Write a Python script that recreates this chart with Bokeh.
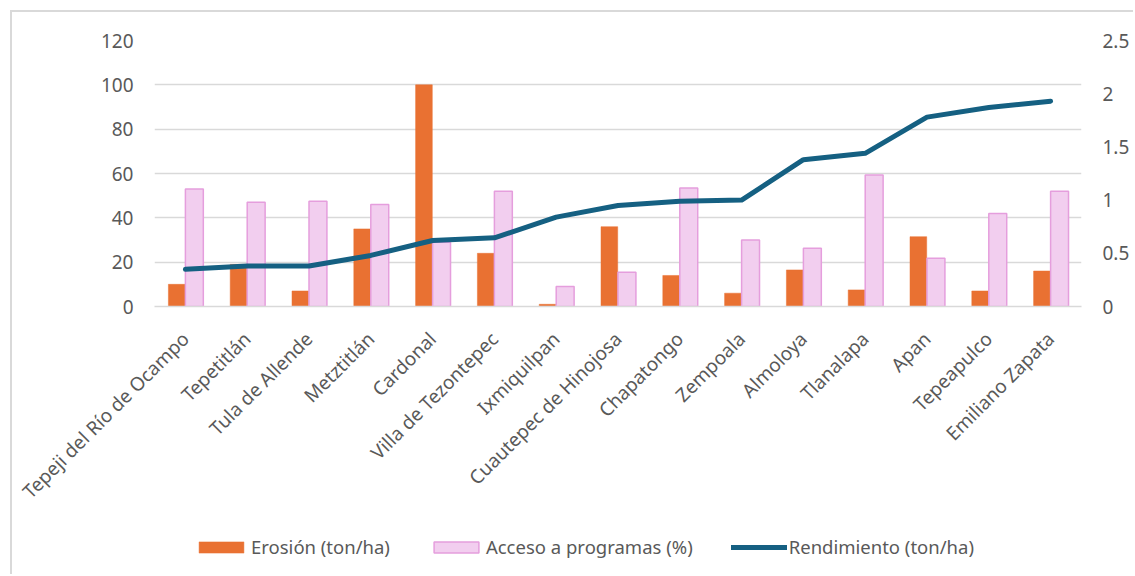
from math import pi

from bokeh.embed import file_html
from bokeh.layouts import column
from bokeh.models import (ColumnDataSource, CustomJSTickFormatter, FactorRange,
                          FixedTicker, Legend, LegendItem, LinearAxis, Range1d)
from bokeh.plotting import figure
from bokeh.resources import INLINE
from bokeh.transform import dodge

# Municipalities, ordered by yield
municipios = [
    "Tepeji del Río de Ocampo", "Tepetitlán", "Tula de Allende", "Metztitlán",
    "Cardonal", "Villa de Tezontepec", "Ixmiquilpan", "Cuautepec de Hinojosa",
    "Chapatongo", "Zempoala", "Almoloya", "Tlanalapa", "Apan", "Tepeapulco",
    "Emiliano Zapata",
]
# Soil erosion (ton/ha)
erosion = [10, 19, 7, 35, 100, 24, 1, 36, 14, 6, 16.5, 7.5, 31.5, 7, 16]
# Access to support programmes (%)
acceso = [53, 47, 47.5, 46, 29, 52, 9, 15.5, 53.5, 30, 26.3, 59.3, 21.8, 42, 52]
# Yield (ton/ha), right axis
rendimiento = [0.35, 0.38, 0.38, 0.48, 0.62, 0.645, 0.84, 0.95, 0.99, 1.0,
               1.38, 1.44, 1.78, 1.87, 1.93]

left_ticks = [0, 20, 40, 60, 80, 100, 120]
right_ticks = [0, 0.5, 1, 1.5, 2, 2.5]

ORANGE = "#E97132"
PINK_FILL = "#F2CEEF"
PINK_LINE = "#E59EDD"
TEAL = "#156082"
GRID = "#D9D9D9"
TEXT = "#595959"
FONT = "Noto Sans"

source = ColumnDataSource(dict(cat=municipios, erosion=erosion,
                               acceso=acceso, rend=rendimiento))

p = figure(
    x_range=FactorRange(*municipios, range_padding=0),
    y_range=Range1d(0, 120),
    width=1123, height=508,
    output_backend="svg", toolbar_location=None,
    min_border_left=142, min_border_right=54,
    min_border_top=28, min_border_bottom=214,
    background_fill_color="white", border_fill_color="white",
    outline_line_color=None,
)
p.margin = (10, 0, 0, 10)
p.styles = {"border-left": "2px solid #D9D9D9", "border-top": "2px solid #D9D9D9"}
p.extra_y_ranges = {"right": Range1d(0, 2.5)}

# Axes
p.yaxis.ticker = FixedTicker(ticks=left_ticks)
p.yaxis.axis_line_color = None
p.yaxis.major_tick_out = 0
p.yaxis.major_tick_in = 0
p.yaxis.minor_tick_line_color = None
p.yaxis.major_label_text_font = FONT
p.yaxis.major_label_text_font_size = "19px"
p.yaxis.major_label_text_color = TEXT
p.yaxis.major_label_standoff = 21

right_axis = LinearAxis(
    y_range_name="right",
    ticker=FixedTicker(ticks=right_ticks),
    formatter=CustomJSTickFormatter(code="return tick.toString()"),
    axis_line_color=None, major_tick_out=0, major_tick_in=0,
    minor_tick_line_color=None,
    major_label_text_font=FONT, major_label_text_font_size="19px",
    major_label_text_color=TEXT, major_label_standoff=21,
)
p.add_layout(right_axis, "right")

p.xaxis.axis_line_color = GRID
p.xaxis.axis_line_width = 1.5
p.xaxis.major_tick_out = 0
p.xaxis.major_tick_in = 0
p.xaxis.minor_tick_line_color = None
p.xaxis.major_label_orientation = pi / 4
p.xaxis.major_label_text_font = FONT
p.xaxis.major_label_text_font_size = "19px"
p.xaxis.major_label_text_color = TEXT
p.xaxis.major_label_standoff = 29

p.xgrid.grid_line_color = None
p.ygrid.grid_line_color = GRID
p.ygrid.grid_line_width = 1.5

# Bars and line
bar_ero = dict(fill_color=ORANGE, line_color=ORANGE, line_width=0.5)
bar_acc = dict(fill_color=PINK_FILL, line_color=PINK_LINE, line_width=1.5)
line_ren = dict(line_color=TEAL, line_width=5, line_cap="round", line_join="round")

p.vbar(x=dodge("cat", -0.14, range=p.x_range), top="erosion", width=0.27,
       source=source, **bar_ero)
p.vbar(x=dodge("cat", 0.145, range=p.x_range), top="acceso", width=0.29,
       source=source, **bar_acc)
p.line(x="cat", y="rend", source=source, y_range_name="right", **line_ren)

# Legend strip underneath the chart. Its keys borrow the series styling from
# collapsed, out-of-view copies of the series (the y range sits far above).
key = figure(
    width=1123, height=56, output_backend="svg", toolbar_location=None,
    x_range=FactorRange(*municipios, range_padding=0),
    y_range=Range1d(1000, 1001),
    x_axis_type=None, y_axis_type=None,
    min_border=0, outline_line_color=None,
    background_fill_color="white", border_fill_color="white",
)
key.margin = (0, 0, 0, 10)
key.styles = {"border-left": "2px solid #D9D9D9"}
key.grid.visible = False

k_ero = key.vbar(x="cat", bottom="erosion", top="erosion", width=0,
                 source=source, **bar_ero)
k_acc = key.vbar(x="cat", bottom="acceso", top="acceso", width=0,
                 source=source, **bar_acc)
k_ren = key.line(x="cat", y="rend", source=source, **line_ren)

legend = Legend(
    items=[LegendItem(label="Erosión (ton/ha)", renderers=[k_ero]),
           LegendItem(label="Acceso a programas (%)", renderers=[k_acc]),
           LegendItem(label="Rendimiento (ton/ha)", renderers=[k_ren])],
    orientation="horizontal", location=(39, 15),
    glyph_width=56, glyph_height=14, label_standoff=2, spacing=38,
    padding=0, margin=0, border_line_color=None, background_fill_alpha=0,
    label_text_font=FONT, label_text_font_size="18.5px", label_text_color=TEXT,
    label_height=20,
)
key.add_layout(legend, "center")

page = column(p, key, spacing=0)
open("out.html", "w").write(file_html(page, INLINE))
